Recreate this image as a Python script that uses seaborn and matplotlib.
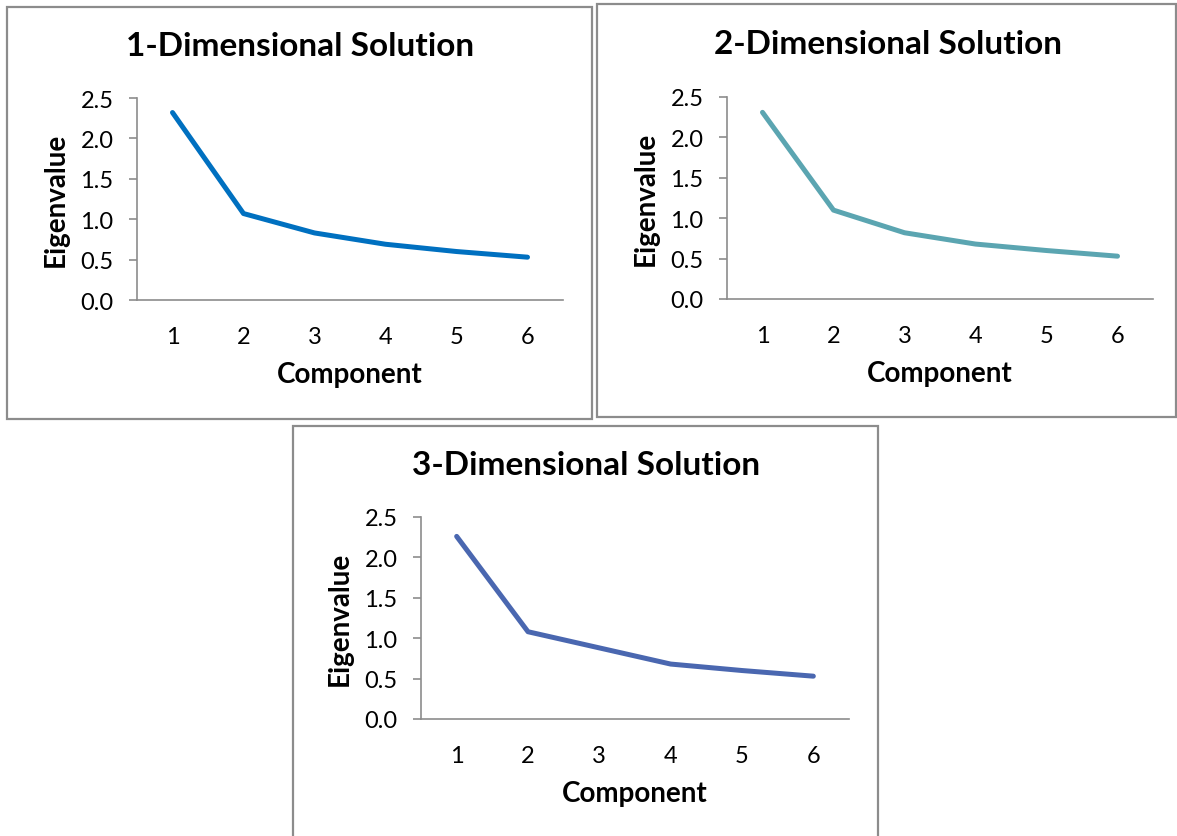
import matplotlib
matplotlib.use("Agg")
import matplotlib.pyplot as plt
from matplotlib.patches import Rectangle
import pandas as pd
import seaborn as sns

sns.set_theme(style="white")
plt.rcParams["font.family"] = ["Lato", "DejaVu Sans"]

components = [1, 2, 3, 4, 5, 6]
eig_1d = [2.32, 1.07, 0.83, 0.69, 0.60, 0.53]
eig_2d = [2.31, 1.10, 0.82, 0.68, 0.60, 0.53]
eig_3d = [2.26, 1.08, 0.88, 0.68, 0.60, 0.53]

titles = ["1-Dimensional Solution", "2-Dimensional Solution", "3-Dimensional Solution"]
colors = ["#0070C0", "#5BA5B1", "#4A67B0"]
y_ticks = [0.0, 0.5, 1.0, 1.5, 2.0, 2.5]

W, H = 1177, 837
fig = plt.figure(figsize=(W / 100, H / 100), dpi=100)
fig.patch.set_facecolor("white")

# panel frames (pixels: left, top, right, bottom)
frames = [(7, 8, 592, 420), (597, 5, 1176, 418), (293, 427, 878, 840)]
# plot areas (pixels: left, top, right, bottom)
areas = [(137, 99, 563, 301), (727, 98, 1153, 300), (421, 518, 849, 720)]

for frame in frames:
    l, t, r, b = frame
    fig.patches.append(Rectangle((l / W, 1 - b / H), (r - l) / W, (b - t) / H,
                                 transform=fig.transFigure, fill=False,
                                 edgecolor="#8C8C8C", linewidth=1.6, zorder=0))

series = [eig_1d, eig_2d, eig_3d]
for (l, t, r, b), frame, vals, title, col in zip(areas, frames, series, titles, colors):
    ax = fig.add_axes([l / W, 1 - b / H, (r - l) / W, (b - t) / H])
    df = pd.DataFrame({"Component": components, "Eigenvalue": vals})
    sns.lineplot(data=df, x="Component", y="Eigenvalue", color=col,
                 linewidth=3.6, ax=ax, solid_capstyle="round", solid_joinstyle="round")
    ax.set_xlim(0.5, 6.5)
    ax.set_ylim(0, 2.5)
    ax.set_xticks(components)
    ax.set_xticklabels([str(c) for c in components])
    ax.set_yticks(y_ticks)
    ax.set_yticklabels([f"{v:.1f}" for v in y_ticks])
    for s in ["top", "right"]:
        ax.spines[s].set_visible(False)
    for s in ["left", "bottom"]:
        ax.spines[s].set_color("#8C8C8C")
        ax.spines[s].set_linewidth(1.2)
    ax.tick_params(axis="y", which="major", left=True, length=6, width=1.2,
                   color="#8C8C8C", labelsize=17, pad=11, labelcolor="black")
    ax.tick_params(axis="x", which="major", bottom=False, labelsize=17, pad=13,
                   labelcolor="black")
    ax.set_xlabel("Component", fontsize=20, fontweight="bold", labelpad=10, color="black")
    ax.set_ylabel("Eigenvalue", fontsize=20, fontweight="bold", labelpad=8, color="black")
    ax.grid(False)
    fl, ft, fr, fb = frame
    cx = (fl + fr) / 2 + 1
    fig.text(cx / W, 1 - (ft + 39) / H, title, ha="center", va="center",
             fontsize=24, fontweight="bold", color="black")

fig.savefig("out.png", dpi=100, facecolor="white")
